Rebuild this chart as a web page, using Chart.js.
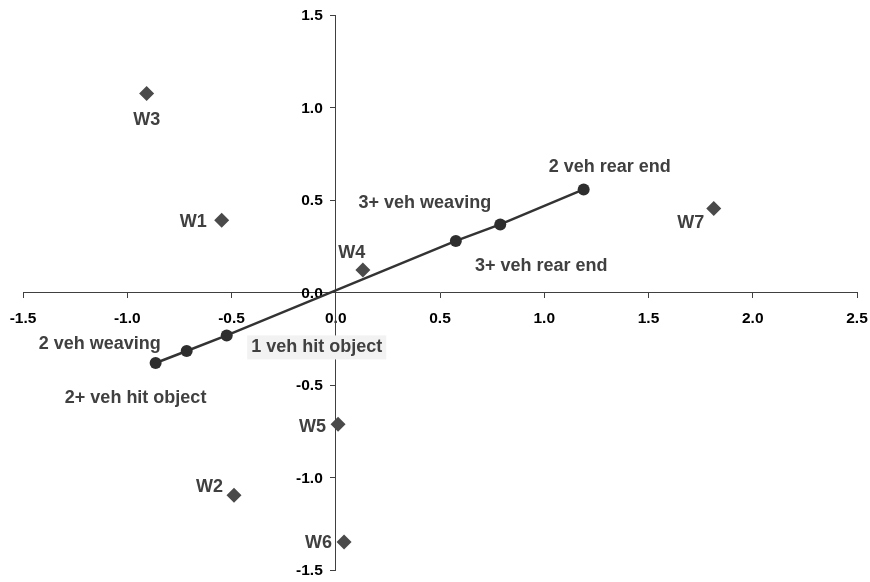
<!DOCTYPE html>
<html>
<head>
<meta charset="utf-8">
<script src="https://cdn.jsdelivr.net/npm/chart.js@4"></script>
<style>
  html, body { margin: 0; padding: 0; background: #fff; }
  #wrap { width: 870px; height: 582px; position: relative; }
</style>
</head>
<body>
<div id="wrap"><canvas id="c" width="870" height="582"></canvas></div>
<script>
// ---- data ----
const wLabels = ['W1', 'W2', 'W3', 'W4', 'W5', 'W6', 'W7'];
const wX = [-0.547, -0.488, -0.907, 0.130, 0.011, 0.040, 1.813];
const wY = [0.391, -1.096, 1.076, 0.121, -0.712, -1.348, 0.454];

const cLabels = ['2+ veh hit object', '2 veh weaving', '1 veh hit object', '3+ veh weaving', '3+ veh rear end', '2 veh rear end'];
const cX = [-0.864, -0.715, -0.523, 0.576, 0.789, 1.189];
const cY = [-0.381, -0.316, -0.232, 0.279, 0.368, 0.557];

const xTicks = [-1.5, -1.0, -0.5, 0.0, 0.5, 1.0, 1.5, 2.0, 2.5];
const yTicks = [-1.5, -1.0, -0.5, 0.0, 0.5, 1.0, 1.5];

// ---- label placement (style only: pixel offsets, alignment) ----
const wLabelPos = [
  {dx: -15, dy: 2, align: 'right'},
  {dx: -11, dy: -8, align: 'right'},
  {dx: 0, dy: 27, align: 'center'},
  {dx: -11, dy: -17, align: 'center'},
  {dx: -12, dy: 3, align: 'right'},
  {dx: -12, dy: 1, align: 'right'},
  {dx: -23, dy: 15, align: 'center'}
];
const cLabelPos = [
  {dx: -20, dy: 35, align: 'center'},
  {dx: -87, dy: -7, align: 'center'},
  {dx: 90, dy: 12, align: 'center', bg: '#f2f2f2'},
  {dx: -31, dy: -38, align: 'center'},
  {dx: 41, dy: 42, align: 'center'},
  {dx: 26, dy: -22, align: 'center'}
];

const FONT = '"Liberation Sans", Arial, sans-serif';
const AXIS_COLOR = '#404040';
const TICK_FONT = 'bold 15.5px ' + FONT;

const yTickLabelPlugin = {
  id: 'yTickLabels',
  beforeDatasetsDraw(chart) {
    const ctx = chart.ctx;
    const xs = chart.scales.x, ys = chart.scales.y;
    const ax = xs.getPixelForValue(0);
    ctx.save();
    ctx.font = TICK_FONT;
    ctx.fillStyle = '#000';
    ctx.textAlign = 'right';
    ctx.textBaseline = 'middle';
    yTicks.forEach(v => {
      ctx.fillText(v.toFixed(1), ax - 13, ys.getPixelForValue(v) + 1);
    });
    ctx.restore();
  }
};

const labelPlugin = {
  id: 'pointLabels',
  afterDraw(chart) {
    const ctx = chart.ctx;
    const xs = chart.scales.x, ys = chart.scales.y;
    ctx.save();
    ctx.font = 'bold 18px ' + FONT;
    ctx.textBaseline = 'middle';
    const drawSet = (labels, X, Y, pos) => {
      labels.forEach((t, i) => {
        const p = pos[i];
        const px = xs.getPixelForValue(X[i]) + p.dx;
        const py = ys.getPixelForValue(Y[i]) + p.dy;
        ctx.textAlign = p.align;
        if (p.bg) {
          const w = ctx.measureText(t).width;
          let left = px - w / 2;
          if (p.align === 'right') left = px - w;
          if (p.align === 'left') left = px;
          ctx.fillStyle = p.bg;
          ctx.fillRect(left - 4, py - 12, w + 8, 24);
        }
        ctx.fillStyle = '#404040';
        ctx.fillText(t, px, py);
      });
    };
    drawSet(wLabels, wX, wY, wLabelPos);
    drawSet(cLabels, cX, cY, cLabelPos);
    ctx.restore();
  }
};

const tickFmt = v => Number(v).toFixed(1);
const noPad = s => { s.paddingLeft = 0; s.paddingRight = 0; s.paddingTop = 0; s.paddingBottom = 0; };

new Chart(document.getElementById('c'), {
  type: 'scatter',
  data: {
    datasets: [
      {
        label: 'W',
        data: wX.map((x, i) => ({x, y: wY[i]})),
        pointStyle: 'rectRot',
        pointRadius: 7.5,
        pointHoverRadius: 7.5,
        backgroundColor: '#4a4a4a',
        borderColor: '#4a4a4a',
        borderWidth: 0,
        showLine: false
      },
      {
        label: 'Crash types',
        data: cX.map((x, i) => ({x, y: cY[i]})),
        pointStyle: 'circle',
        pointRadius: 6,
        pointHoverRadius: 6,
        backgroundColor: '#2e2e2e',
        borderColor: '#333333',
        pointBorderWidth: 0,
        borderWidth: 2.5,
        showLine: true
      }
    ]
  },
  options: {
    responsive: false,
    animation: false,
    devicePixelRatio: 1,
    layout: { padding: { left: 23, right: 13, top: 15, bottom: 12 } },
    plugins: {
      legend: { display: false },
      tooltip: { enabled: false }
    },
    scales: {
      x: {
        type: 'linear',
        position: { y: 0 },
        min: -1.5, max: 2.5,
        afterBuildTicks: s => { s.ticks = xTicks.map(v => ({value: v})); },
        afterFit: noPad,
        ticks: {
          callback: tickFmt,
          color: '#000',
          font: { family: FONT, size: 15.5, weight: 'bold' },
          padding: 12,
          maxRotation: 0,
          autoSkip: false
        },
        grid: { drawOnChartArea: false, drawTicks: true, tickLength: 5, color: AXIS_COLOR, lineWidth: 1 },
        border: { display: true, color: AXIS_COLOR, width: 1 }
      },
      y: {
        type: 'linear',
        position: { x: 0 },
        min: -1.5, max: 1.5,
        afterBuildTicks: s => { s.ticks = yTicks.map(v => ({value: v})); },
        afterFit: noPad,
        ticks: {
          callback: () => '',
          autoSkip: false
        },
        grid: { drawOnChartArea: false, drawTicks: true, tickLength: 5, color: AXIS_COLOR, lineWidth: 1 },
        border: { display: true, color: AXIS_COLOR, width: 1 }
      }
    }
  },
  plugins: [yTickLabelPlugin, labelPlugin]
});
</script>
</body>
</html>
